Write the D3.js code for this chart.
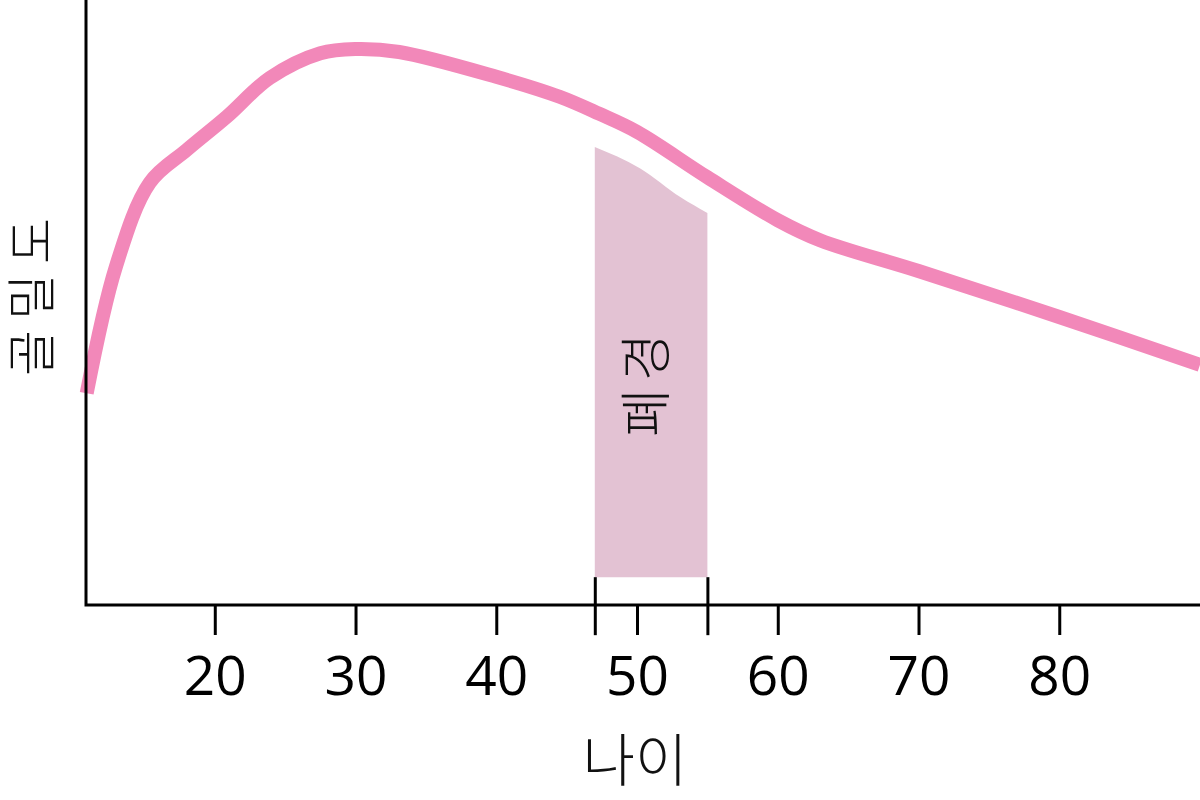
<!DOCTYPE html>
<html lang="ko">
<head>
  <meta charset="utf-8">
  <title>골밀도</title>
  <script src="https://cdn.jsdelivr.net/npm/d3@7"></script>
  <style>
    body { margin: 0; background: #fff; }
    .tick text { font-family: "Open Sans", sans-serif; }
    .kr { font-family: "Noto Sans CJK KR", sans-serif; font-weight: 300; fill: #111; }
  </style>
</head>
<body>
<div id="chart"></div>
<script>
  // bone density curve (arbitrary units 0-100)
  const ages = [10.9, 12.97, 15.38, 18, 20.85, 23.9, 27.5, 30, 33.1, 40, 44.5, 47.3, 50, 55, 60, 63, 70, 80, 90];
  const density = [35, 55.9, 69.8, 75.2, 80.7, 87.1, 91.2, 91.9, 91.4, 87.3, 84, 81.2, 78.2, 70.7, 63.6, 60.3, 55.2, 47.6, 39.7];

  // menopause band
  const bandAges = [47, 50.2, 53.1, 55];
  const bandTop = [75.7, 72.2, 67.4, 64.8];
  const bandBottom = 4.6;

  const tickAges = [20, 30, 40, 50, 60, 70, 80];
  const markAges = [47, 55];

  const width = 1200, height = 800;
  const left = 86, bottom = 605;

  const svg = d3.select("#chart").append("svg")
    .attr("width", width)
    .attr("height", height);

  const x = d3.scaleLinear().domain([10.85, 90]).range([left, width]);
  const y = d3.scaleLinear().domain([0, 100]).range([bottom, 0]);

  // shaded band
  const area = d3.area()
    .x(function(d) { return x(d[0]); })
    .y0(y(bandBottom))
    .y1(function(d) { return y(d[1]); })
    .curve(d3.curveMonotoneX);

  svg.append("path")
    .datum(d3.zip(bandAges, bandTop))
    .attr("d", area)
    .attr("fill", "#e3c2d3");

  svg.append("text")
    .attr("class", "kr")
    .attr("transform", "translate(665, 381) rotate(-90)")
    .attr("text-anchor", "middle")
    .attr("font-size", 52)
    .attr("letter-spacing", 8)
    .text("폐경");

  // density curve
  const line = d3.line()
    .x(function(d) { return x(d[0]); })
    .y(function(d) { return y(d[1]); })
    .curve(d3.curveCatmullRom.alpha(0.5));

  svg.append("path")
    .datum(d3.zip(ages, density))
    .attr("d", line)
    .attr("fill", "none")
    .attr("stroke", "#f288b9")
    .attr("stroke-width", 14);

  // axes
  const xAxis = d3.axisBottom(x)
    .tickValues(tickAges)
    .tickSize(30)
    .tickPadding(21)
    .tickFormat(d3.format("d"));

  const gx = svg.append("g")
    .attr("transform", "translate(0," + bottom + ")")
    .call(xAxis);
  gx.select(".domain").remove();
  gx.selectAll(".tick line").attr("stroke", "#000").attr("stroke-width", 3);
  gx.selectAll(".tick text").attr("font-size", 55).attr("fill", "#000");

  const markAxis = d3.axisBottom(x)
    .tickValues(markAges)
    .tickSize(58)
    .tickFormat("");

  const gm = svg.append("g")
    .attr("transform", "translate(0," + y(bandBottom) + ")")
    .call(markAxis);
  gm.select(".domain").remove();
  gm.selectAll(".tick line").attr("stroke", "#000").attr("stroke-width", 3);

  svg.append("path")
    .attr("d", "M" + left + ",0V" + bottom + "H" + width)
    .attr("fill", "none")
    .attr("stroke", "#000")
    .attr("stroke-width", 3);

  // labels
  svg.append("text")
    .attr("class", "kr")
    .attr("x", 635)
    .attr("y", 781)
    .attr("text-anchor", "middle")
    .attr("font-size", 57)
    .text("나이");

  svg.append("text")
    .attr("class", "kr")
    .attr("transform", "translate(50, 292) rotate(-90)")
    .attr("text-anchor", "middle")
    .attr("font-size", 50)
    .attr("letter-spacing", 10)
    .text("골밀도");
</script>
</body>
</html>
